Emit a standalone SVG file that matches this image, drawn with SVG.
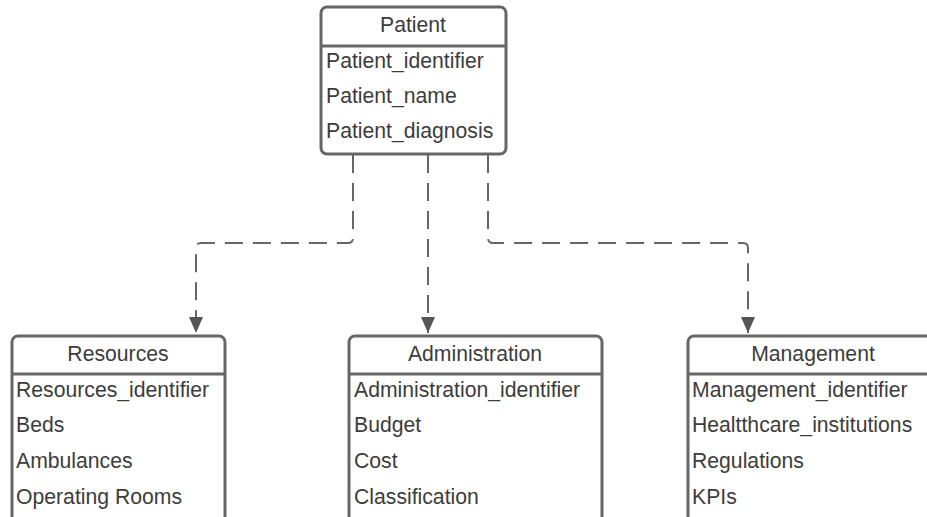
<svg xmlns="http://www.w3.org/2000/svg" width="927" height="517" viewBox="0 0 927 517">
<defs>
<style>
.box{fill:#fff;stroke:#666;stroke-width:3}
.sep{stroke:#666;stroke-width:3}
.t{font-family:"Liberation Sans",Arial,sans-serif;font-size:21.2px;fill:#3c3c3c}
.h{text-anchor:middle}
.c{fill:none;stroke:#666;stroke-width:2;stroke-dasharray:18 10}
</style>
<marker id="ah" markerWidth="16" markerHeight="14" refX="16" refY="7" orient="auto" markerUnits="userSpaceOnUse">
<path d="M0,0 L16,7 L0,14 Z" fill="#555"/>
</marker>
</defs>
<g id="connectors">
<path class="c" d="M353,155 V238 Q353,243 348,243 H201 Q196,243 196,248 V333" marker-end="url(#ah)"/>
<path class="c" d="M428,155 V333" marker-end="url(#ah)"/>
<path class="c" d="M488,155 V238 Q488,243 493,243 H743 Q748,243 748,248 V333" marker-end="url(#ah)"/>
</g>
<g id="patient">
<rect class="box" x="321" y="7" width="185" height="147" rx="6"/>
<line class="sep" x1="321" y1="46" x2="506" y2="46"/>
<text class="t h" x="413" y="32">Patient</text>
<text class="t" x="326" y="68">Patient_identifier</text>
<text class="t" x="326" y="103">Patient_name</text>
<text class="t" x="326" y="138">Patient_diagnosis</text>
</g>
<g id="resources">
<rect class="box" x="12" y="336" width="213" height="200" rx="6"/>
<line class="sep" x1="12" y1="374" x2="225" y2="374"/>
<text class="t h" x="118" y="361">Resources</text>
<text class="t" x="16" y="397">Resources_identifier</text>
<text class="t" x="16" y="432">Beds</text>
<text class="t" x="16" y="468">Ambulances</text>
<text class="t" x="16" y="504">Operating Rooms</text>
</g>
<g id="administration">
<rect class="box" x="349" y="336" width="253" height="200" rx="6"/>
<line class="sep" x1="349" y1="374" x2="602" y2="374"/>
<text class="t h" x="475" y="361">Administration</text>
<text class="t" x="354" y="397">Administration_identifier</text>
<text class="t" x="354" y="432">Budget</text>
<text class="t" x="354" y="468">Cost</text>
<text class="t" x="354" y="504">Classification</text>
</g>
<g id="management">
<rect class="box" x="688" y="336" width="260" height="200" rx="6"/>
<line class="sep" x1="688" y1="374" x2="948" y2="374"/>
<text class="t h" x="813" y="361">Management</text>
<text class="t" x="692" y="397">Management_identifier</text>
<text class="t" x="692" y="432">Healtthcare_institutions</text>
<text class="t" x="692" y="468">Regulations</text>
<text class="t" x="692" y="504">KPIs</text>
</g>
</svg>
